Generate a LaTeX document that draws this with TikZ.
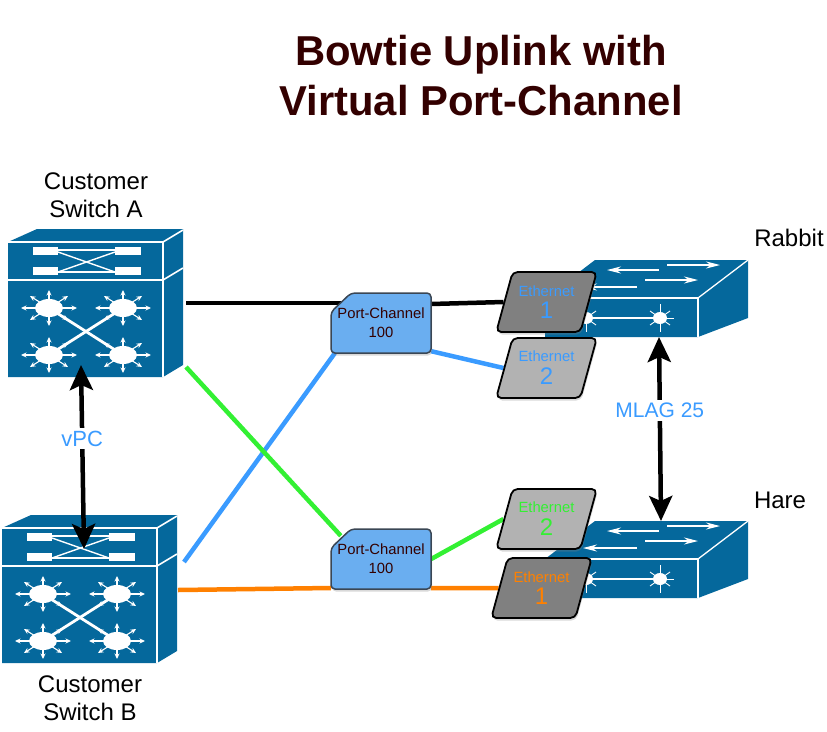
\documentclass[tikz,border=0pt]{standalone}
\usepackage{fontspec}
\setmainfont{Liberation Sans}
\usetikzlibrary{arrows.meta}
\usetikzlibrary{backgrounds}
\usetikzlibrary{shadows}
\usetikzlibrary{shapes.geometric}
\definecolor{switchblue}{HTML}{05689C}
\definecolor{portblue}{HTML}{6AAEF0}
\definecolor{portedge}{HTML}{3A4654}
\definecolor{titlered}{HTML}{330000}
\definecolor{wireblue}{HTML}{3A9BFF}
\definecolor{wiregreen}{HTML}{33F033}
\definecolor{wireorange}{HTML}{FF8000}
\newcommand{\ethlabel}[2]{\fontsize{14.8}{18}\selectfont #1\\[5pt]\fontsize{24}{18}\selectfont #2}
\tikzset{
	softshadow/.style = {drop shadow = {shadow xshift = 1pt, shadow yshift = -2.5pt, opacity = 0.3}},
	titletext/.style = {text = titlered, font = \fontsize{41.8}{49}\selectfont\bfseries, align = center},
	nametext/.style = {font = \fontsize{24}{27.5}\selectfont, align = center},
	linktext/.style = {text = wireblue, fill = white, inner sep = 3pt},
	porttext/.style = {minimum width = 100pt, minimum height = 60pt, inner sep = 0pt, text = titlered, font = \fontsize{14.8}{19}\selectfont, align = center},
	ethport/.style = {trapezium, trapezium left angle = 68, trapezium right angle = 112, trapezium stretches = true, minimum width = 101pt, minimum height = 60pt, inner sep = 0pt, rounded corners = 5pt, draw = black, line width = 1.8pt, align = center, softshadow},
	wire/.style = {line width = 4.5pt},
	peerlink/.style = {black, line width = 4.5pt, {Stealth[length = 25pt, width = 23pt, inset = 5pt]}-{Stealth[length = 25pt, width = 23pt, inset = 5pt]}},
	hubspoke/.style = {white, line width = 1.1pt, -{Stealth[length = 5.5pt, width = 5pt]}},
	portface/.pic = {
		\draw [portedge, line width = 1.5pt, fill = portblue, rounded corners = 4pt, softshadow] (10, -30) -- (50, -30) -- (50, 30) -- (-50, 30) -- (-50, -11) -- (-30, -30) -- cycle;
	},
	hub/.pic = {
		\fill [white] (0, 0) ellipse (14 and 9);
		\foreach \dx/\dy in {28/0, 19/12, 0/18, -19/12, -28/0, -19/-12, 0/-18, 19/-12}
			\draw [hubspoke] (0, 0) -- (\dx, \dy);
	},
	smallhub/.pic = {
		\fill [white] (0, 0) ellipse (7 and 6);
		\foreach \dx/\dy in {14/0, 10/7, 0/14, -10/7, -14/0, -10/-7, 0/-14, 10/-7}
			\draw [white, line width = 0.9pt] (0, 0) -- (\dx, \dy);
	},
	stackswitch/.pic = {
		\fill [switchblue] (0, 0) -- (29, -13) -- (175, -13) -- (175, 123) -- (155, 135) -- (0, 135) -- cycle;
		\draw [white, line width = 1.6pt] (0, 0) -- (155, 0) -- (155, 135);
		\draw [white, line width = 1.6pt] (155, 0) -- (175, -12);
		\draw [white, line width = 1.6pt] (0, 38) -- (155, 38) -- (175, 26);
		\foreach \y in {5, 25} {
			\fill [white] (25, \y) rectangle (50, \y + 8);
			\fill [white] (107, \y) rectangle (133, \y + 8);
		}
		\draw [white, line width = 1.4pt] (50, 8) -- (107, 8);
		\draw [white, line width = 1.4pt] (50, 30) -- (107, 30);
		\draw [white, line width = 1.4pt] (50, 10) -- (107, 30);
		\draw [white, line width = 1.4pt] (50, 30) -- (107, 10);
		\draw [white, line width = 2.8pt] (41, 66) -- (115, 113);
		\draw [white, line width = 2.8pt] (115, 66) -- (41, 113);
		\pic at (41, 66) {hub};
		\pic at (115, 66) {hub};
		\pic at (41, 113) {hub};
		\pic at (115, 113) {hub};
	},
	flatswitch/.pic = {
		\fill [switchblue] (0, 0) -- (50, -38) -- (203, -38) -- (203, 20) -- (153, 39) -- (0, 39) -- cycle;
		\draw [white, line width = 1.3pt] (0, 0) -- (153, 0) -- (153, 39);
		\draw [white, line width = 1.3pt] (153, 0) -- (203, -38);
		\draw [white, line width = 1.1pt, -{Stealth[length = 14pt, width = 7pt]}] (114, -28) -- (62, -28);
		\draw [white, line width = 1.1pt, -{Stealth[length = 14pt, width = 7pt]}] (122, -33) -- (175, -33);
		\draw [white, line width = 1.1pt, -{Stealth[length = 14pt, width = 7pt]}] (100, -18) -- (153, -18);
		\draw [white, line width = 1.1pt, -{Stealth[length = 14pt, width = 7pt]}] (92, -11) -- (38, -11);
		\draw [white, line width = 1.6pt] (41, 20) -- (115, 20);
		\pic at (41, 20) {smallhub};
		\pic at (115, 20) {smallhub};
	}
}
\begin{document}
\begin{tikzpicture}[x = 1pt, y = -1pt]
	\useasboundingbox (0, 0) rectangle (827, 731);
	\node (titleA) at (481, 55) [titletext] {Bowtie Uplink with};
	\node (titleB) at (481, 101) [titletext] {Virtual Port-Channel};
	\node (nameA) at (96, 195) [nametext] {Customer\\Switch A};
	\node (nameB) at (90, 698) [nametext] {Customer\\Switch B};
	\node (nameRabbit) at (789, 238) [nametext] {Rabbit};
	\node (nameHare) at (780, 500) [nametext] {Hare};
	\pic at (8, 242) {stackswitch};
	\pic at (2, 528) {stackswitch};
	\pic at (545, 298) {flatswitch};
	\pic at (545, 559) {flatswitch};
	\coordinate (swAwire) at (186, 303);
	\coordinate (swAgreen) at (186, 367);
	\coordinate (swBblue) at (184, 562);
	\coordinate (swBwire) at (178, 590);
	\coordinate (swApeer) at (81, 365);
	\coordinate (swBpeer) at (84, 549);
	\coordinate (rabbitpeer) at (659, 337);
	\coordinate (harepeer) at (661, 521);
	\pic at (381, 323) {portface};
	\pic at (381, 559) {portface};
	\node (pcTop) at (381, 323) [porttext] {Port-Channel\\100};
	\node (pcBottom) at (381, 559) [porttext] {Port-Channel\\100};
	\node (ethTopOne) at (546.5, 302) [ethport, fill = black!50, text = wireblue] {\ethlabel{Ethernet}{1}};
	\node (ethTopTwo) at (546.5, 368) [ethport, fill = black!30, text = wireblue] {\ethlabel{Ethernet}{2}};
	\node (ethBottomTwo) at (546.5, 519) [ethport, fill = black!30, text = wiregreen] {\ethlabel{Ethernet}{2}};
	\node (ethBottomOne) at (541.5, 588) [ethport, fill = black!50, text = wireorange] {\ethlabel{Ethernet}{1}};
	\begin{scope}[on background layer]
		\draw [wire, black] (swAwire) -- ([xshift = 12pt, yshift = 20pt] pcTop.west);
		\draw [wire, black] ([yshift = 19pt] pcTop.east) -- (ethTopOne.west);
		\draw [wire, wireblue] ([yshift = 2pt] pcTop.south east) -- (ethTopTwo.west);
		\draw [wire, wireblue] (swBblue) -- ([xshift = 4pt] pcTop.south west);
		\draw [wire, wiregreen] (swAgreen) -- ([xshift = 10pt, yshift = -7pt] pcBottom.north west);
		\draw [wire, wiregreen] (pcBottom.east) -- (ethBottomTwo.west);
		\draw [wire, wireorange] (swBwire) -- ([yshift = -29pt] pcBottom.west);
		\draw [wire, wireorange] ([yshift = -29pt] pcBottom.east) -- (ethBottomOne.west);
	\end{scope}
	\draw [peerlink] (swApeer) -- (swBpeer) node (vpcLabel) [pos = 0.4, linktext, font = \fontsize{22}{25}\selectfont] {vPC};
	\draw [peerlink] (rabbitpeer) -- (harepeer) node (mlagLabel) [pos = 0.4, linktext, font = \fontsize{21}{25}\selectfont] {MLAG 25};
\end{tikzpicture}
\end{document}
